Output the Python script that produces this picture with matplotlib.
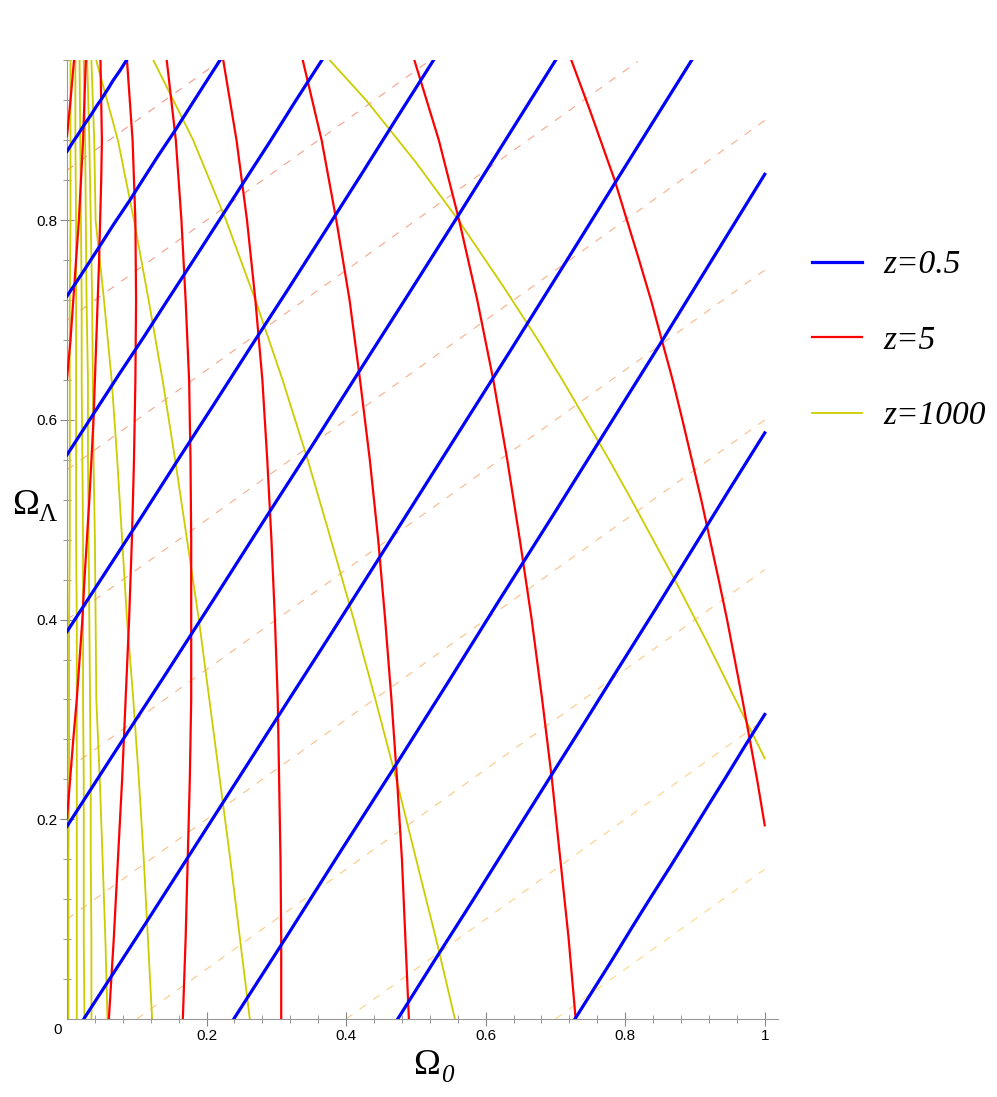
import matplotlib
matplotlib.use("Agg")
import matplotlib.pyplot as plt
import numpy as np

# ---------------- data ----------------
# z = 0.5 contours (blue): polylines (Omega_0 values, Omega_Lambda values)
blue_x = [
    [0.000, 0.010, 0.015, 0.025, 0.034, 0.043, 0.050, 0.060, 0.066, 0.076, 0.085],
    [0.000, 0.020, 0.045, 0.066, 0.090, 0.110, 0.131, 0.155, 0.175, 0.196, 0.219],
    [0.000, 0.037, 0.074, 0.110, 0.145, 0.185, 0.220, 0.255, 0.292, 0.328, 0.365],
    [0.000, 0.053, 0.105, 0.159, 0.210, 0.265, 0.316, 0.370, 0.421, 0.475, 0.525],
    [0.000, 0.071, 0.141, 0.210, 0.283, 0.352, 0.420, 0.493, 0.561, 0.630, 0.700],
    [0.024, 0.112, 0.200, 0.286, 0.375, 0.464, 0.550, 0.636, 0.721, 0.810, 0.895],
    [0.239, 0.317, 0.394, 0.470, 0.545, 0.620, 0.697, 0.773, 0.850, 0.925, 1.000],
    [0.474, 0.528, 0.580, 0.632, 0.685, 0.740, 0.790, 0.843, 0.896, 0.949, 1.000],
    [0.728, 0.755, 0.782, 0.810, 0.835, 0.865, 0.890, 0.920, 0.945, 0.973, 1.000],
]
blue_y = [
    [0.869, 0.880, 0.885, 0.896, 0.905, 0.915, 0.922, 0.933, 0.940, 0.950, 0.960],
    [0.724, 0.745, 0.772, 0.795, 0.820, 0.842, 0.865, 0.890, 0.912, 0.935, 0.960],
    [0.565, 0.605, 0.645, 0.683, 0.721, 0.764, 0.802, 0.840, 0.880, 0.920, 0.960],
    [0.388, 0.445, 0.501, 0.560, 0.615, 0.675, 0.730, 0.789, 0.845, 0.905, 0.960],
    [0.193, 0.270, 0.345, 0.420, 0.500, 0.575, 0.650, 0.730, 0.805, 0.882, 0.960],
    [0.000, 0.095, 0.191, 0.285, 0.382, 0.480, 0.575, 0.670, 0.765, 0.865, 0.960],
    [0.000, 0.085, 0.170, 0.253, 0.336, 0.420, 0.505, 0.590, 0.676, 0.761, 0.846],
    [0.000, 0.060, 0.117, 0.175, 0.234, 0.295, 0.351, 0.410, 0.470, 0.530, 0.587],
    [0.000, 0.030, 0.060, 0.092, 0.120, 0.153, 0.181, 0.215, 0.243, 0.275, 0.305],
]

# z = 5 contours (red)
rows = [0.00, 0.08, 0.16, 0.24, 0.32, 0.40, 0.48, 0.56, 0.64, 0.72, 0.80, 0.88, 0.96]
red_x = [
    [0.000, 0.005, 0.010],
    [0.000, 0.005, 0.009, 0.013, 0.017, 0.020, 0.023, 0.025, 0.027],
    [0.000, 0.009, 0.014, 0.022, 0.025, 0.032, 0.038, 0.040, 0.044, 0.046, 0.049, 0.050, 0.048],
    [0.060, 0.067, 0.073, 0.079, 0.084, 0.089, 0.093, 0.096, 0.098, 0.099, 0.098, 0.094, 0.086],
    [0.166, 0.170, 0.173, 0.176, 0.178, 0.178, 0.178, 0.177, 0.175, 0.170, 0.164, 0.156, 0.143],
    [0.307, 0.307, 0.306, 0.304, 0.302, 0.298, 0.293, 0.287, 0.280, 0.270, 0.258, 0.243, 0.224],
    [0.490, 0.485, 0.480, 0.473, 0.465, 0.456, 0.446, 0.434, 0.420, 0.405, 0.386, 0.365, 0.338],
    [0.729, 0.719, 0.707, 0.695, 0.681, 0.666, 0.649, 0.631, 0.611, 0.588, 0.562, 0.533, 0.498],
    [1.000, 0.989, 0.968, 0.946, 0.934, 0.909, 0.882, 0.868, 0.837, 0.820, 0.785, 0.750, 0.723],
]
red_y = [
    [0.884, 0.920, 0.960],
    [0.641, 0.680, 0.720, 0.760, 0.800, 0.840, 0.880, 0.920, 0.960],
    [0.201, 0.280, 0.320, 0.400, 0.440, 0.520, 0.600, 0.640, 0.720, 0.760, 0.840, 0.880, 0.960],
    rows, rows, rows, rows, rows,
    [0.194, 0.240, 0.320, 0.400, 0.440, 0.520, 0.600, 0.640, 0.720, 0.760, 0.840, 0.909, 0.960],
]

# z = 1000 contours (yellow)
yel_x = [
    [0.002, 0.002, 0.002, 0.003, 0.003, 0.003, 0.004, 0.004, 0.004, 0.004, 0.005, 0.005, 0.005],
    [0.014, 0.014, 0.014, 0.014, 0.014, 0.014, 0.013, 0.013, 0.013, 0.013, 0.013, 0.012, 0.012],
    [0.025, 0.024, 0.024, 0.024, 0.023, 0.023, 0.023, 0.022, 0.021, 0.021, 0.020, 0.019, 0.018],
    [0.035, 0.035, 0.034, 0.034, 0.033, 0.032, 0.031, 0.030, 0.030, 0.028, 0.027, 0.026, 0.024],
    [0.058, 0.055, 0.051, 0.047, 0.042, 0.041, 0.040, 0.038, 0.037, 0.036, 0.034, 0.032, 0.029],
    [0.122, 0.116, 0.110, 0.103, 0.095, 0.086, 0.079, 0.072, 0.064, 0.053, 0.041, 0.039, 0.035],
    [0.262, 0.248, 0.234, 0.219, 0.204, 0.189, 0.172, 0.155, 0.137, 0.117, 0.096, 0.073, 0.042],
    [0.556, 0.529, 0.500, 0.472, 0.442, 0.411, 0.375, 0.345, 0.309, 0.270, 0.228, 0.181, 0.124],
    [1.000, 0.958, 0.917, 0.871, 0.809, 0.777, 0.710, 0.675, 0.625, 0.561, 0.500, 0.429, 0.377],
]
yel_y = [
    rows, rows, rows, rows, rows, rows, rows,
    [0.000, 0.080, 0.161, 0.240, 0.320, 0.400, 0.488, 0.560, 0.640, 0.720, 0.800, 0.880, 0.960],
    [0.261, 0.320, 0.378, 0.440, 0.520, 0.560, 0.640, 0.680, 0.734, 0.800, 0.858, 0.920, 0.960],
]

# q0 = const lines (dashed): end points
dash_x0 = [0.0, 0.0, 0.0, 0.0, 0.0, 0.0, 0.1, 0.4, 0.7]
dash_y0 = [0.85, 0.70, 0.55, 0.40, 0.25, 0.10, 0.0, 0.0, 0.0]
dash_x1 = [0.218, 0.518, 0.818, 1.0, 1.0, 1.0, 1.0, 1.0, 1.0]
dash_y1 = [0.959, 0.959, 0.959, 0.90, 0.75, 0.60, 0.45, 0.30, 0.15]

legend_labels = ["z=0.5", "z=5", "z=1000"]
x_ticks = [0.2, 0.4, 0.6, 0.8, 1.0]
x_ticklabels = ["0.2", "0.4", "0.6", "0.8", "1"]
y_ticks = [0.2, 0.4, 0.6, 0.8]
y_ticklabels = ["0.2", "0.4", "0.6", "0.8"]

# ---------------- figure ----------------
W, H = 997, 1097
fig = plt.figure(figsize=(W / 100, H / 100), dpi=100)
ax = fig.add_axes([67 / W, (H - 1019) / H, (778 - 67) / W, (1019 - 60) / H])
ax.set_xlim(0, 1.019)
ax.set_ylim(0, 0.9605)

c_dash0 = np.array([0.95, 0.45, 0.40])
c_dash1 = np.array([1.00, 0.80, 0.35])
n = len(dash_x0)
for i in range(n):
    t = i / (n - 1)
    col = tuple(c_dash0 * (1 - t) + c_dash1 * t)
    ax.plot([dash_x0[i], dash_x1[i]], [dash_y0[i], dash_y1[i]], color=col,
            lw=0.8, alpha=0.75, dashes=(7, 8), zorder=1)

for i, (xs, ys) in enumerate(zip(yel_x, yel_y)):
    ax.plot(xs, ys, color='#cccc00', lw=1.3, zorder=2,
            label=legend_labels[2] if i == 0 else None)
for i, (xs, ys) in enumerate(zip(red_x, red_y)):
    ax.plot(xs, ys, color='#ff0000', lw=1.6, zorder=3,
            label=legend_labels[1] if i == 0 else None)
for i, (xs, ys) in enumerate(zip(blue_x, blue_y)):
    ax.plot(xs, ys, color='#0000ff', lw=2.3, zorder=4,
            label=legend_labels[0] if i == 0 else None)

for s in ['top', 'right']:
    ax.spines[s].set_visible(False)
for s in ['left', 'bottom']:
    ax.spines[s].set_color('#999999')
    ax.spines[s].set_linewidth(0.8)

ax.set_xticks(x_ticks)
ax.set_xticklabels(x_ticklabels, family='Liberation Sans')
ax.set_yticks(y_ticks)
ax.set_yticklabels(y_ticklabels, family='Liberation Sans')
ax.set_xticks(np.arange(0.04, 1.001, 0.04), minor=True)
ax.set_yticks(np.arange(0.04, 0.961, 0.04), minor=True)
ax.tick_params(which='major', direction='inout', length=10, width=0.8,
               color='#888888', labelsize=11, labelcolor='black', pad=2)
ax.tick_params(which='minor', direction='inout', length=6, width=0.6,
               color='#888888')
ax.text(-0.008, -0.004, "0", ha='right', va='top', fontsize=11,
        family='Liberation Sans', transform=ax.transData)

# axis labels: Omega with subscripts
fig.text(413 / W, 1 - 1074 / H, "Ω", fontsize=26, family='Liberation Serif',
         ha='left', va='baseline')
fig.text(441 / W, 1 - 1082 / H, "0", fontsize=18, family='Liberation Serif',
         style='italic', ha='left', va='baseline')
fig.text(12 / W, 1 - 514 / H, "Ω", fontsize=26, family='Liberation Serif',
         ha='left', va='baseline')
fig.text(39 / W, 1 - 521 / H, "Λ", fontsize=18, family='Liberation Serif',
         ha='left', va='baseline')

h, l = ax.get_legend_handles_labels()
order = [l.index(s) for s in legend_labels]
fig.legend([h[i] for i in order], [l[i] for i in order],
           loc='upper left', bbox_to_anchor=(782 / W, 1 - 220 / H),
           frameon=False, prop={'family': 'Liberation Serif', 'style': 'italic', 'size': 24},
           handlelength=1.5, handletextpad=0.65, labelspacing=1.35)

fig.savefig('out.png', dpi=100)
